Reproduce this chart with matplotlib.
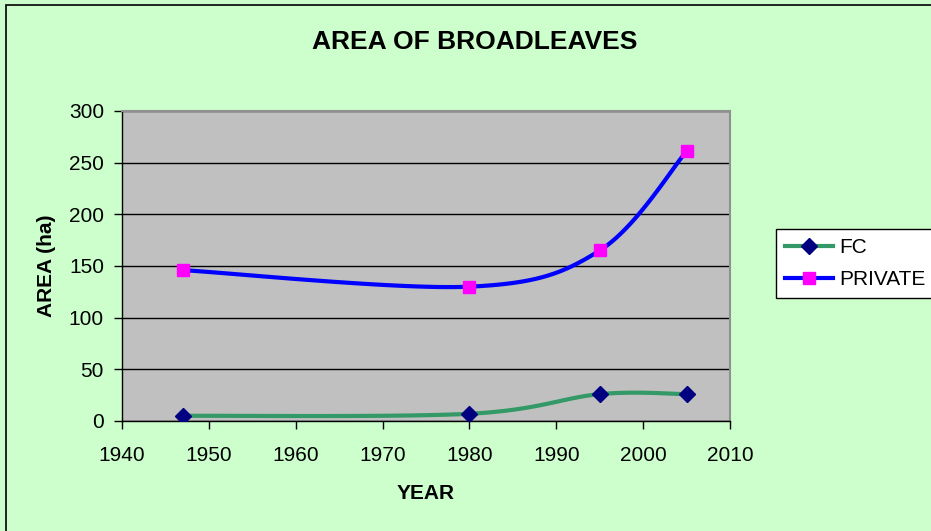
import numpy as np
import matplotlib
matplotlib.use("Agg")
import matplotlib.pyplot as plt
from matplotlib.patches import Rectangle

years = [1947, 1980, 1995, 2005]
fc = [5, 7, 26, 26]
private = [146, 130, 165, 261]

plt.rcParams['font.family'] = ['Liberation Sans', 'DejaVu Sans']


def smooth(xs, ys, n=40):
    # Excel-style smoothed line: Catmull-Rom segments drawn as cubic Beziers
    p = np.column_stack([xs, ys]).astype(float)
    ext = np.vstack([p[0], p, p[-1]])
    out = []
    t = np.linspace(0, 1, n)[:, None]
    for i in range(1, len(ext) - 2):
        p0, p1, p2, p3 = ext[i - 1], ext[i], ext[i + 1], ext[i + 2]
        c1 = p1 + (p2 - p0) / 6
        c2 = p2 - (p3 - p1) / 6
        seg = ((1 - t) ** 3) * p1 + 3 * ((1 - t) ** 2) * t * c1 + 3 * (1 - t) * t ** 2 * c2 + t ** 3 * p2
        out.append(seg if i == 1 else seg[1:])
    seg = np.vstack(out)
    return seg[:, 0], seg[:, 1]


fig = plt.figure(figsize=(9.31, 5.31), dpi=100, facecolor='#CCFFCC')
ax = fig.add_axes([122 / 931, 1 - 421 / 531, 608 / 931, 310 / 531])
ax.set_facecolor('#C0C0C0')

# outer chart border (left and top visible, rest cropped)
fig.patches.append(Rectangle((6 / 931, -0.1), 1.2, 1 - 5 / 531 + 0.1, transform=fig.transFigure,
                             fill=False, edgecolor='black', linewidth=1.2))

sx, sy = smooth(years, fc)
ax.plot(sx, sy, color='#339966', linewidth=3, solid_capstyle='butt', zorder=3)
ax.plot(years, fc, linestyle='none', marker='D', markersize=8, color='#000080', zorder=4)
sx, sy = smooth(years, private)
ax.plot(sx, sy, color='#0000FF', linewidth=3, solid_capstyle='butt', zorder=3)
ax.plot(years, private, linestyle='none', marker='s', markersize=8, color='#FF00FF', zorder=4)

# legend handles
ax.plot([], [], color='#339966', linewidth=3, marker='D', markersize=8,
        markerfacecolor='#000080', markeredgecolor='#000080', label='FC')
ax.plot([], [], color='#0000FF', linewidth=3, marker='s', markersize=8,
        markerfacecolor='#FF00FF', markeredgecolor='#FF00FF', label='PRIVATE')

ax.set_xlim(1940, 2010)
ax.set_ylim(0, 300)
ax.set_xticks(range(1940, 2011, 10))
ax.set_yticks(range(0, 301, 50))
ax.grid(axis='y', color='black', linewidth=1)
ax.set_axisbelow(True)
ax.tick_params(axis='x', direction='out', length=6, width=1, pad=12, labelsize=15)
ax.tick_params(axis='y', direction='out', length=6, width=1, pad=7, labelsize=15)
for s in ['top', 'right']:
    ax.spines[s].set_color('#909090')
    ax.spines[s].set_linewidth(1.5)
for s in ['left', 'bottom']:
    ax.spines[s].set_color('black')
    ax.spines[s].set_linewidth(1)

ax.set_xlabel('YEAR', fontsize=15, fontweight='bold', labelpad=14)
ax.set_ylabel('AREA (ha)', fontsize=15, fontweight='bold', labelpad=9)
fig.text(475 / 931, 1 - 42 / 531, 'AREA OF BROADLEAVES', fontsize=19, fontweight='bold',
         ha='center', va='center')

h, l = ax.get_legend_handles_labels()
leg = fig.legend(h[-2:], l[-2:], loc='upper left', bbox_to_anchor=(776 / 931, 1 - 229 / 531),
                 fontsize=15, frameon=True, fancybox=False, edgecolor='black',
                 facecolor='white', framealpha=1, handlelength=2.3, handletextpad=0.3,
                 borderpad=0.45, labelspacing=0.6, borderaxespad=0)
leg.get_frame().set_linewidth(1)

fig.savefig('out.png', dpi=100, facecolor=fig.get_facecolor())
